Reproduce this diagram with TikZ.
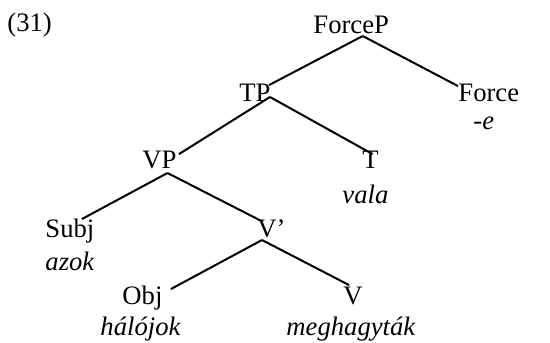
\documentclass[tikz,border=0pt]{standalone}
\usepackage{fontspec}
\setmainfont{Liberation Serif}
\usetikzlibrary{calc}
\tikzset{cat/.style={inner sep=0pt, anchor=base west, font=\fontsize{12}{12}\selectfont},
         gloss/.style={cat, font=\fontsize{12}{12}\selectfont\itshape},
         branch/.style={line width=0.9pt}}

\begin{document}
\begin{tikzpicture}[x=0.45pt, y=-0.45pt]
\useasboundingbox (0,0) rectangle (550,343);

% Define nodes
\node[cat]   (ex)   at (7,32)    {(31)};
\node[cat]   (fp)   at (313,34)  {ForceP};
\node[cat]   (tp)   at (239,102) {TP};
\node[cat]   (f)    at (458,102) {Force};
\node[gloss] (fe)   at (473,130) {-e};
\node[cat]   (vp)   at (142,168) {VP};
\node[cat]   (t)    at (362,168) {T};
\node[gloss] (tw)   at (342,203) {vala};
\node[cat]   (subj) at (45,237)  {Subj};
\node[gloss] (sw)   at (45,270)  {azok};
\node[cat]   (vb)   at (257,237) {V’};
\node[cat]   (obj)  at (122,304) {Obj};
\node[gloss] (ow)   at (100,335) {hálójok};
\node[cat]   (v)    at (343,304) {V};
\node[gloss] (vw)   at (286,335) {meghagyták};

% Edges
\coordinate (fpa) at ($(fp.base)+(11.5,2)$);
\coordinate (tpa) at ($(tp.base east)+(-1,-5)$);
\coordinate (vpa) at ($(vp.base)+(8,5)$);
\coordinate (vba) at ($(vb.base west)+(5,3)$);

\draw[branch] (fpa) -- ($(tp.north east)+(-2,1)$);
\draw[branch] (fpa) -- ($(f.north west)+(0,2)$);
\draw[branch] (tpa) -- ($(vp.north east)+(2,4)$);
\draw[branch] (tpa) -- ($(t.north)+(2,4)$);
\draw[branch] (vpa) -- ($(subj.north)+(12,1)$);
\draw[branch] (vpa) -- ($(vb.north west)+(6,3)$);
\draw[branch] (vba) -- ($(obj.north east)+(8,4)$);
\draw[branch] (vba) -- ($(v.north)+(-4,-1)$);
\end{tikzpicture}
\end{document}
